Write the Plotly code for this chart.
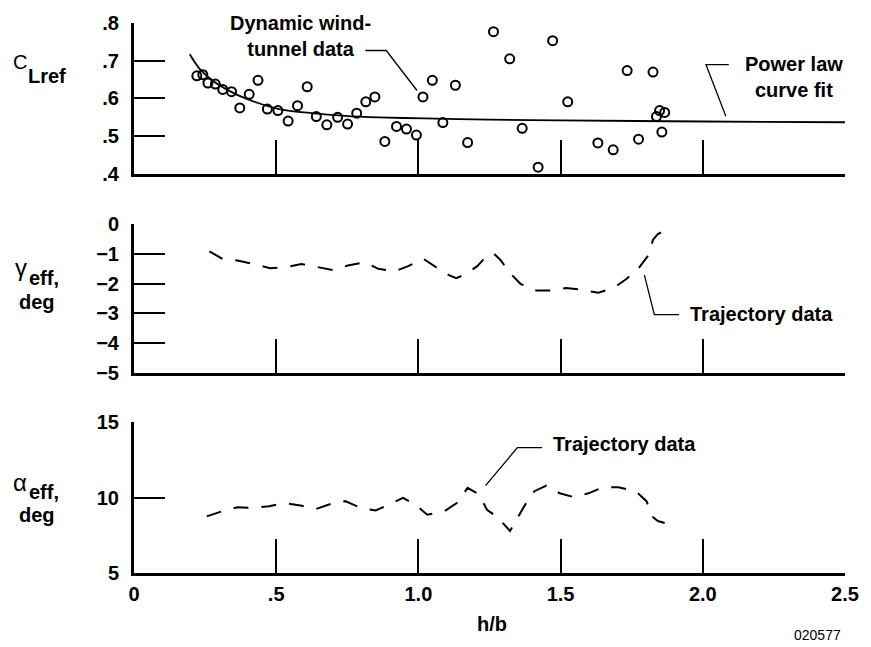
import plotly.graph_objects as go

# ---- Reference lift coefficient: dynamic wind-tunnel measurements ----
cl_h = [0.221, 0.242, 0.260, 0.286, 0.312, 0.343, 0.372, 0.405, 0.436, 0.469,
        0.506, 0.542, 0.575, 0.609, 0.641, 0.678, 0.716, 0.751, 0.783, 0.815,
        0.847, 0.882, 0.923, 0.958, 0.993, 1.016, 1.049, 1.086, 1.130, 1.173,
        1.264, 1.321, 1.365, 1.421, 1.472, 1.525, 1.631, 1.685, 1.734, 1.774,
        1.825, 1.837, 1.848, 1.866, 1.856]
cl_ref = [0.660, 0.663, 0.641, 0.638, 0.624, 0.618, 0.575, 0.611, 0.648, 0.572,
          0.568, 0.540, 0.581, 0.631, 0.552, 0.530, 0.550, 0.532, 0.561, 0.591,
          0.604, 0.486, 0.526, 0.519, 0.503, 0.604, 0.648, 0.536, 0.635, 0.483,
          0.777, 0.705, 0.521, 0.418, 0.753, 0.591, 0.482, 0.464, 0.674, 0.492,
          0.670, 0.552, 0.568, 0.563, 0.511]

# Power law curve fit through the wind-tunnel points
fit_h = [0.196, 0.230, 0.277, 0.335, 0.392, 0.510, 0.626, 0.742, 0.859, 1.022,
         1.250, 1.500, 2.000, 2.500]
fit_cl = [0.717, 0.679, 0.647, 0.620, 0.600, 0.572, 0.561, 0.554, 0.550, 0.547,
          0.544, 0.542, 0.539, 0.537]

# ---- Effective flightpath angle from trajectory data ----
gam_h = [0.265, 0.312, 0.368, 0.422, 0.478, 0.533, 0.589, 0.644, 0.699, 0.752,
         0.810, 0.859, 0.915, 0.964, 1.018, 1.063, 1.109, 1.133, 1.162, 1.206,
         1.243, 1.265, 1.287, 1.322, 1.359, 1.408, 1.466, 1.520, 1.575, 1.633,
         1.688, 1.730, 1.773, 1.808, 1.825, 1.842, 1.866]
gam_eff = [-0.93, -1.18, -1.24, -1.35, -1.49, -1.46, -1.35, -1.46, -1.55, -1.40,
           -1.29, -1.51, -1.60, -1.42, -1.18, -1.46, -1.73, -1.82, -1.71, -1.43,
           -1.05, -1.00, -1.20, -1.65, -2.01, -2.23, -2.23, -2.15, -2.21, -2.31,
           -2.14, -1.86, -1.51, -1.07, -0.54, -0.35, -0.24]

# ---- Effective angle of attack from trajectory data ----
alp_h = [0.256, 0.308, 0.364, 0.417, 0.475, 0.530, 0.585, 0.638, 0.694, 0.743,
         0.798, 0.850, 0.903, 0.946, 0.993, 1.031, 1.092, 1.136, 1.173, 1.214,
         1.241, 1.278, 1.322, 1.348, 1.377, 1.408, 1.450, 1.497, 1.548, 1.598,
         1.650, 1.703, 1.764, 1.802, 1.825, 1.842, 1.866]
alp_eff = [8.75, 9.08, 9.36, 9.30, 9.43, 9.63, 9.47, 9.23, 9.59, 9.76,
           9.30, 9.14, 9.59, 9.98, 9.47, 8.86, 9.10, 9.65, 10.64, 10.20,
           9.19, 8.70, 7.78, 8.60, 9.58, 10.42, 10.79, 10.28, 10.02, 10.28,
           10.68, 10.68, 10.42, 9.76, 8.70, 8.44, 8.31]

# Axis ticks
x_ticks = [0, 0.5, 1.0, 1.5, 2.0, 2.5]
x_labels = ["0", ".5", "1.0", "1.5", "2.0", "2.5"]
cl_ticks = [0.4, 0.5, 0.6, 0.7, 0.8]
cl_labels = [".4", ".5", ".6", ".7", ".8"]
gam_ticks = [-5, -4, -3, -2, -1, 0]
gam_labels = ["\u22125", "\u22124", "\u22123", "\u22122", "\u22121", "0"]
alp_ticks = [5, 10, 15]
alp_labels = ["5", "10", "15"]

FONT = "Liberation Sans, Arial, Helvetica, sans-serif"
W, H = 871, 647
ML, MR, MT, MB = 134, 21, 19, 74
PW, PH = W - ML - MR, H - MT - MB

fig = go.Figure()

fig.add_trace(go.Scatter(
    x=cl_h, y=cl_ref, mode="markers", xaxis="x", yaxis="y",
    marker=dict(symbol="circle-open", size=9, color="black",
                line=dict(width=2, color="black")),
    cliponaxis=False, showlegend=False))
fig.add_trace(go.Scatter(
    x=fit_h, y=fit_cl, mode="lines", xaxis="x", yaxis="y",
    line=dict(color="black", width=1.8, shape="spline", smoothing=0.8),
    showlegend=False))
fig.add_trace(go.Scatter(
    x=gam_h, y=gam_eff, mode="lines", xaxis="x2", yaxis="y2",
    line=dict(color="black", width=2, dash="15px,13px"),
    showlegend=False))
fig.add_trace(go.Scatter(
    x=alp_h, y=alp_eff, mode="lines", xaxis="x3", yaxis="y3",
    line=dict(color="black", width=2, dash="15px,13px"),
    showlegend=False))


def xaxis_cfg(anchor, labels):
    return dict(
        domain=[0, 1], anchor=anchor, range=[0, 2.5],
        tickmode="array", tickvals=x_ticks, ticktext=x_labels,
        showticklabels=labels, ticks="inside", ticklen=34, tickwidth=2,
        tickcolor="black", showline=True, linewidth=3, linecolor="black",
        showgrid=False, zeroline=False, ticklabelstandoff=1,
        tickfont=dict(family=FONT, size=20, color="black", weight="bold"))


def yaxis_cfg(anchor, dom, rng, vals, text):
    return dict(
        domain=dom, anchor=anchor, range=rng,
        tickmode="array", tickvals=vals, ticktext=text,
        ticks="inside", ticklen=31, tickwidth=2, tickcolor="black",
        showline=True, linewidth=3, linecolor="black",
        showgrid=False, zeroline=False, ticklabelstandoff=8,
        tickfont=dict(family=FONT, size=20, color="black", weight="bold"))


def px(xp, yp):
    """Pixel position on the page -> paper coordinates."""
    return (xp - ML) / PW, (H - MB - yp) / PH


annotations = []


def label(text, xp, yp, size=20, bold=True, xanchor="center"):
    x, y = px(xp, yp)
    annotations.append(dict(
        text=text, x=x, y=y, xref="paper", yref="paper",
        xanchor=xanchor, yanchor="middle", showarrow=False, align="center",
        borderpad=0,
        font=dict(family=FONT, size=size, color="black",
                  weight="bold" if bold else "normal")))


# Panel labels: symbol, then its subscript text set a little lower
label("C", 11, 58, size=20, bold=False, xanchor="left")
label("Lref", 26, 72, xanchor="left")
label("\u03b3", 13, 265, size=24, bold=False, xanchor="left")
label("eff,", 27, 276, xanchor="left")
label("deg", 36, 300)
label("\u03b1", 11, 482, size=24, bold=False, xanchor="left")
label("eff,", 27, 491, xanchor="left")
label("deg", 36, 515)

# Callouts
label("Dynamic wind-<br>tunnel data", 302, 32)
label("Power law<br>curve fit", 799, 73)
label("Trajectory data", 693, 312, xanchor="left")
label("Trajectory data", 555, 443, xanchor="left")

# Axis title and figure number
label("h/b", 495, 624)
label("020577", 822, 635, size=14, bold=False)

leader = dict(color="black", width=1.3)
shapes = [
    dict(type="path", xref="x", yref="y", line=leader,
         path="M 0.8136 0.7271 L 0.8869 0.7271 L 0.9951 0.6211"),
    dict(type="path", xref="x", yref="y", line=leader,
         path="M 2.0915 0.6895 L 2.0112 0.6895 L 2.081 0.5526"),
    dict(type="path", xref="x2", yref="y2", line=leader,
         path="M 1.7947 -1.722 L 1.8296 -3.036 L 1.9169 -3.036"),
    dict(type="path", xref="x3", yref="y3", line=leader,
         path="M 1.236 10.79 L 1.348 13.31 L 1.435 13.31"),
]

fig.update_layout(
    width=W, height=H,
    margin=dict(l=ML, r=MR, t=MT, b=MB),
    paper_bgcolor="white", plot_bgcolor="white",
    showlegend=False,
    xaxis=xaxis_cfg("y", False),
    xaxis2=xaxis_cfg("y2", False),
    xaxis3=xaxis_cfg("y3", True),
    yaxis=yaxis_cfg("x", [0.7256, 1.0], [0.4, 0.8], cl_ticks, cl_labels),
    yaxis2=yaxis_cfg("x2", [0.3628, 0.6354], [-5, 0], gam_ticks, gam_labels),
    yaxis3=yaxis_cfg("x3", [0.0, 0.2744], [5, 15], alp_ticks, alp_labels),
    annotations=annotations,
    shapes=shapes,
)

fig.write_html("out.html")
